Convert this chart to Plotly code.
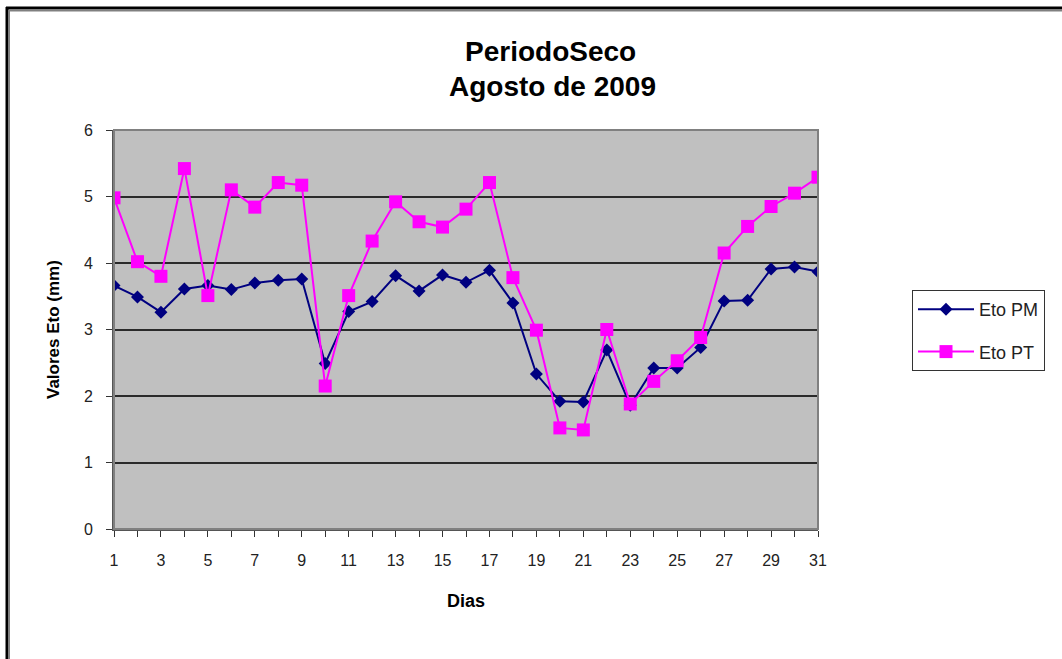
"""
Eto PM vs Eto PT - periodo seco, agosto de 2009
"""

import plotly.graph_objects as go

# data
dias = list(range(1, 32))
eto_pm = [3.66, 3.49, 3.26, 3.61, 3.66, 3.60, 3.70, 3.74, 3.76, 2.49,
          3.27, 3.42, 3.81, 3.58, 3.82, 3.71, 3.89, 3.40, 2.33, 1.92,
          1.91, 2.69, 1.86, 2.42, 2.42, 2.73, 3.43, 3.44, 3.91, 3.94, 3.87]
eto_pt = [4.98, 4.02, 3.80, 5.42, 3.51, 5.10, 4.84, 5.21, 5.17, 2.15,
          3.51, 4.33, 4.92, 4.62, 4.54, 4.81, 5.21, 3.78, 2.99, 1.52,
          1.49, 3.00, 1.88, 2.22, 2.53, 2.88, 4.15, 4.55, 4.85, 5.05, 5.29]
series_names = ["Eto PM", "Eto PT"]
x_ticks = list(range(1, 32, 2))
y_ticks = [0, 1, 2, 3, 4, 5, 6]

FONT = "Arial, Liberation Sans, sans-serif"
W, H = 1062, 659
L, R, T, B = 114, 244, 130, 130  # plot area margins in px


def px_x(px):
    # pixel column -> paper x
    return (px - L) / (W - L - R)


def px_y(py):
    # pixel row -> paper y
    return (H - B - py) / (H - T - B)


fig = go.Figure()

fig.add_trace(
    go.Scatter(
        x=dias,
        y=eto_pm,
        name=series_names[0],
        mode="lines+markers",
        line=dict(color="#000080", width=2),
        marker=dict(symbol="diamond", size=10, color="#000080"),
        legendgroup="pm",
    )
)
fig.add_trace(
    go.Scatter(
        x=dias,
        y=eto_pt,
        name=series_names[1],
        mode="lines+markers",
        line=dict(color="#FF00FF", width=2),
        marker=dict(symbol="square", size=13, color="#FF00FF"),
        legendgroup="pt",
    )
)

# outer frame of the picture (top + left edges only)
shapes = [
    dict(type="line", xref="paper", yref="paper",
         x0=px_x(6), x1=px_x(W + 5), y0=px_y(8), y1=px_y(8),
         line=dict(color="black", width=3)),
    dict(type="line", xref="paper", yref="paper",
         x0=px_x(9), x1=px_x(W + 5), y0=px_y(10.5), y1=px_y(10.5),
         line=dict(color="#808080", width=2)),
    dict(type="line", xref="paper", yref="paper",
         x0=px_x(7), x1=px_x(7), y0=px_y(7), y1=px_y(H + 5),
         line=dict(color="black", width=3)),
    dict(type="line", xref="paper", yref="paper",
         x0=px_x(9.5), x1=px_x(9.5), y0=px_y(10), y1=px_y(H + 5),
         line=dict(color="#808080", width=1)),
]


def label(text, x, y, size, angle=0):
    return dict(text=text, xref="paper", yref="paper", x=px_x(x), y=px_y(y),
                xanchor="center", yanchor="middle", showarrow=False,
                textangle=angle, font=dict(family=FONT, size=size, color="black"))


annotations = [
    label("<b>PeriodoSeco</b>", 550, 52, 28),
    label("<b>Agosto de 2009</b>", 552, 87, 28),
    label("<b>Valores Eto (mm)</b>", 53, 329, 17, angle=-90),
    label("<b>Dias</b>", 466, 601, 18),
]

fig.update_layout(
    width=W,
    height=H,
    margin=dict(l=L, r=R, t=T, b=B),
    paper_bgcolor="white",
    plot_bgcolor="#C0C0C0",
    font=dict(family=FONT, size=16, color="#222222"),
    shapes=shapes,
    annotations=annotations,
    showlegend=True,
    legend=dict(
        x=px_x(912), y=px_y(290), xanchor="left", yanchor="top",
        bgcolor="white", bordercolor="#333333", borderwidth=1,
        font=dict(family=FONT, size=18, color="#222222"),
        tracegroupgap=16,
        itemwidth=56,
        entrywidth=90,
    ),
    xaxis=dict(
        range=[1, 31],
        tickvals=x_ticks,
        ticks="outside",
        ticklen=6,
        tickcolor="#333333",
        ticklabelstandoff=10,
        minor=dict(dtick=1, tick0=1, ticks="outside", ticklen=6, tickcolor="#333333"),
        showgrid=False,
        zeroline=False,
        showline=True,
        linecolor="#555555",
        linewidth=2,
        mirror=False,
    ),
    yaxis=dict(
        range=[0, 6],
        tickvals=y_ticks,
        ticks="outside",
        ticklen=6,
        tickcolor="#333333",
        ticklabelstandoff=10,
        showgrid=True,
        gridcolor="#2a2a2a",
        gridwidth=1.5,
        zeroline=False,
        showline=True,
        linecolor="#555555",
        linewidth=2,
    ),
)

# gray border on top and right of the plot area
fig.add_shape(type="rect", xref="paper", yref="paper", x0=0, x1=1, y0=0, y1=1,
              line=dict(color="#808080", width=2), layer="above")

# page body has a default 8px margin; drop it so the figure sits at 0,0
fig.write_html(
    "out.html",
    config={"displayModeBar": False},
    post_script="document.body.style.margin='0';",
)
